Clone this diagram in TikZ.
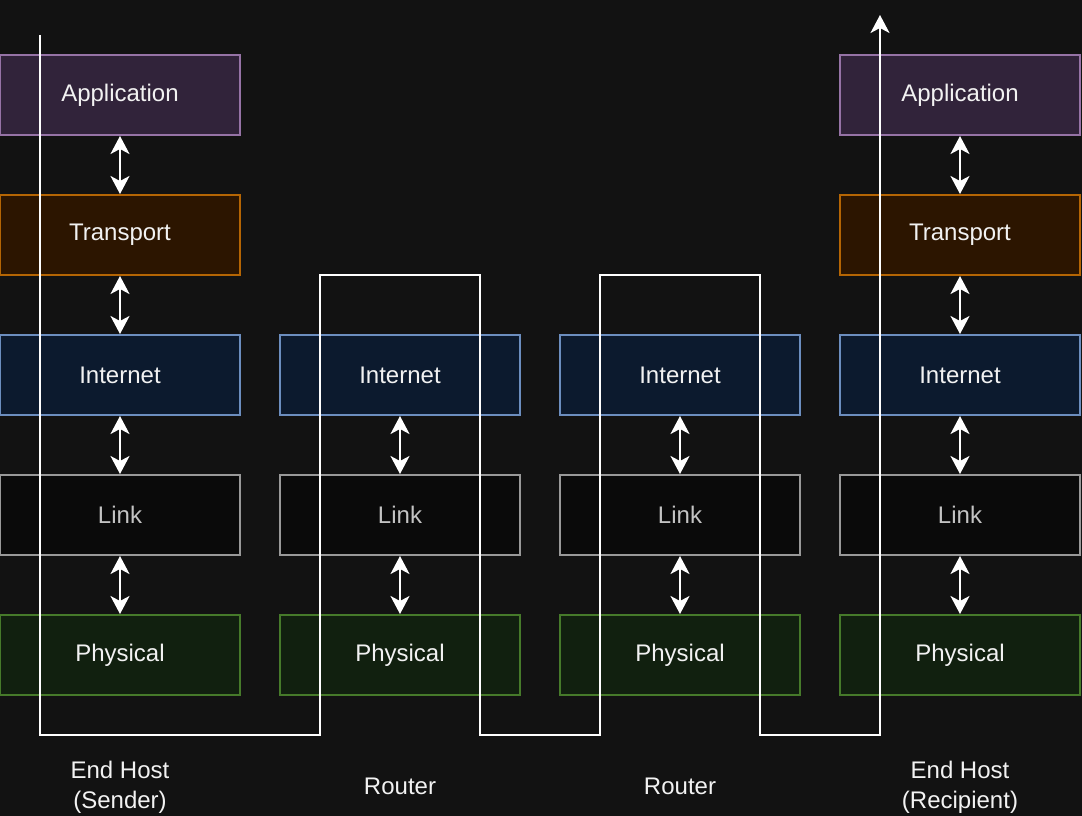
\documentclass[tikz,border=0pt]{standalone}
\usepackage{fontspec}
\setmainfont{Liberation Sans}
\usetikzlibrary{arrows.meta}

\definecolor{bgdark}{HTML}{121212}
\definecolor{appfill}{HTML}{31233A}
\definecolor{appline}{HTML}{9673A6}
\definecolor{trafill}{HTML}{2C1500}
\definecolor{traline}{HTML}{B46504}
\definecolor{netfill}{HTML}{0C1A2E}
\definecolor{netline}{HTML}{6C8EBF}
\definecolor{lnkfill}{HTML}{0A0A0A}
\definecolor{lnkline}{HTML}{999999}
\definecolor{lnktext}{HTML}{C4C4C4}
\definecolor{phyfill}{HTML}{11200F}
\definecolor{phyline}{HTML}{467A2A}
\definecolor{labeltext}{HTML}{F2F2F2}

\tikzset{
  layer/.style={draw, line width=2pt, minimum width=240pt, minimum height=80pt,
    text=labeltext, font=\fontsize{24}{29}\selectfont},
  applayer/.style={layer, draw=appline, fill=appfill},
  tralayer/.style={layer, draw=traline, fill=trafill},
  netlayer/.style={layer, draw=netline, fill=netfill},
  lnklayer/.style={layer, draw=lnkline, fill=lnkfill, text=lnktext},
  phylayer/.style={layer, draw=phyline, fill=phyfill},
  tip/.tip={Stealth[length=18pt, width=19pt, inset=5pt]},
  dblarrow/.style={draw=white, line width=2pt, tip-tip},
  route/.style={draw=white, line width=2pt},
  caption/.style={text=labeltext, align=center, font=\fontsize{24}{30}\selectfont}
}

\begin{document}
\begin{tikzpicture}[x=1pt, y=-1pt]
  \fill[bgdark] (0,0) rectangle (1082,816);
  \useasboundingbox (0,0) rectangle (1082,816);

  % sender
  \node[applayer] (app1) at (120,95) {Application};
  \node[tralayer] (tra1) at (120,235) {Transport};
  \node[netlayer] (net1) at (120,375) {Internet};
  \node[lnklayer] (lnk1) at (120,515) {Link};
  \node[phylayer] (phy1) at (120,655) {Physical};

  % first router
  \node[netlayer] (net2) at (400,375) {Internet};
  \node[lnklayer] (lnk2) at (400,515) {Link};
  \node[phylayer] (phy2) at (400,655) {Physical};

  % second router
  \node[netlayer] (net3) at (680,375) {Internet};
  \node[lnklayer] (lnk3) at (680,515) {Link};
  \node[phylayer] (phy3) at (680,655) {Physical};

  % recipient
  \node[applayer] (app4) at (960,95) {Application};
  \node[tralayer] (tra4) at (960,235) {Transport};
  \node[netlayer] (net4) at (960,375) {Internet};
  \node[lnklayer] (lnk4) at (960,515) {Link};
  \node[phylayer] (phy4) at (960,655) {Physical};

  % layer to layer
  \draw[dblarrow] (app1) -- (tra1);
  \draw[dblarrow] (tra1) -- (net1);
  \draw[dblarrow] (net1) -- (lnk1);
  \draw[dblarrow] (lnk1) -- (phy1);
  \draw[dblarrow] (net2) -- (lnk2);
  \draw[dblarrow] (lnk2) -- (phy2);
  \draw[dblarrow] (net3) -- (lnk3);
  \draw[dblarrow] (lnk3) -- (phy3);
  \draw[dblarrow] (app4) -- (tra4);
  \draw[dblarrow] (tra4) -- (net4);
  \draw[dblarrow] (net4) -- (lnk4);
  \draw[dblarrow] (lnk4) -- (phy4);

  % path of the data
  \coordinate (src) at (40,35);
  \coordinate (dst) at (880,15);
  \draw[route, -tip] (src) -- (40,735) -- (320,735) -- (320,275) -- (480,275)
    -- (480,735) -- (600,735) -- (600,275) -- (760,275) -- (760,735)
    -- (880,735) -- (dst);

  \node[caption] (host1) at (120,787) {End Host\\(Sender)};
  \node[caption] (rtr1) at (400,786) {Router};
  \node[caption] (rtr2) at (680,786) {Router};
  \node[caption] (host2) at (960,787) {End Host\\(Recipient)};
\end{tikzpicture}
\end{document}
